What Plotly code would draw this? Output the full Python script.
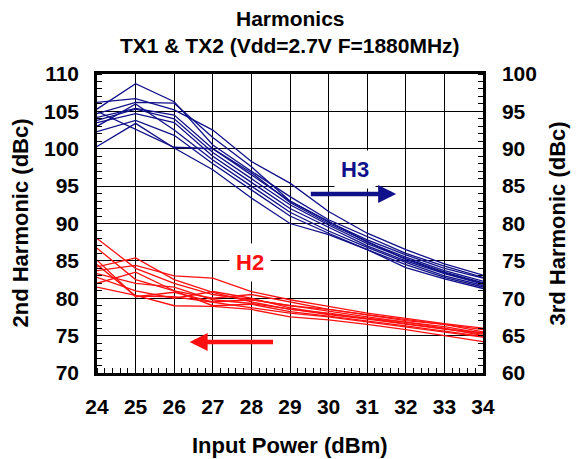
import plotly.graph_objects as go

x_power = [24, 25, 26, 27, 28, 29, 30, 31, 32, 33, 34]

# 3rd harmonic (dBc), right axis
h3_series = [
    [96.2, 96.7, 95.2, 92.5, 88.3, 85.4, 81.6, 78.7, 76.5, 74.6, 73.1],
    [95.3, 98.7, 96.3, 90.5, 87.0, 83.6, 80.5, 78.3, 76.0, 74.3, 72.8],
    [94.7, 96.2, 96.1, 91.5, 87.6, 83.0, 80.2, 77.8, 75.8, 74.0, 72.7],
    [94.2, 95.4, 94.5, 90.0, 86.5, 83.0, 80.3, 77.5, 75.5, 73.7, 72.3],
    [93.8, 95.3, 94.0, 89.5, 86.0, 82.5, 79.8, 77.3, 75.3, 73.5, 72.1],
    [93.5, 94.7, 93.5, 89.0, 85.5, 82.0, 79.5, 77.0, 75.0, 73.3, 71.9],
    [93.0, 96.0, 92.5, 88.5, 85.0, 81.5, 79.0, 76.8, 74.8, 73.0, 71.7],
    [92.3, 93.8, 91.8, 88.0, 84.5, 81.0, 78.7, 76.5, 74.5, 72.8, 71.5],
    [90.3, 93.4, 90.1, 87.2, 83.4, 80.0, 78.5, 76.5, 74.1, 72.6, 71.3],
    [95.0, 92.6, 90.2, 90.0, 86.8, 82.8, 80.0, 77.6, 75.2, 73.4, 72.0],
]

# 2nd harmonic (dBc), left axis
h2_series = [
    [88.0, 84.0, 82.0, 80.5, 79.8, 79.0, 78.5, 77.8, 77.0, 76.5, 75.5],
    [86.7, 82.5, 81.0, 80.0, 80.5, 79.5, 78.5, 77.8, 77.2, 76.5, 75.8],
    [85.1, 80.2, 80.8, 79.5, 79.8, 79.0, 78.2, 77.5, 76.8, 76.2, 75.3],
    [84.2, 85.4, 82.5, 80.8, 79.5, 78.5, 78.0, 77.3, 76.8, 76.0, 75.0],
    [83.7, 84.4, 83.0, 82.7, 80.9, 79.8, 78.9, 78.0, 77.3, 76.6, 76.0],
    [83.3, 82.0, 81.5, 79.8, 79.3, 78.5, 77.8, 77.2, 76.5, 75.8, 75.2],
    [82.8, 81.0, 80.0, 80.9, 80.0, 78.7, 77.9, 77.3, 76.6, 75.9, 75.4],
    [82.0, 83.5, 81.0, 79.0, 79.2, 78.2, 77.6, 77.0, 76.3, 75.6, 74.9],
    [81.5, 80.4, 79.0, 78.9, 78.5, 77.5, 77.1, 76.5, 75.8, 75.0, 74.2],
    [84.5, 80.3, 80.2, 79.5, 78.8, 78.0, 77.5, 76.8, 76.1, 75.5, 74.8],
]

x_ticks = [24, 25, 26, 27, 28, 29, 30, 31, 32, 33, 34]
y_left_ticks = [70, 75, 80, 85, 90, 95, 100, 105, 110]
y_right_ticks = [60, 65, 70, 75, 80, 85, 90, 95, 100]

title_lines = ["Harmonics", "TX1 & TX2 (Vdd=2.7V F=1880MHz)"]
x_title = "Input Power (dBm)"
left_title = "2nd Harmonic (dBc)"
right_title = "3rd Harmonic (dBc)"

NAVY = "#10108a"
RED = "#ff1010"
FONT = "Liberation Sans, Arial, sans-serif"

fig = go.Figure()
for s in h2_series:
    fig.add_trace(go.Scatter(x=x_power, y=s, mode="lines", yaxis="y",
                             line=dict(color=RED, width=1.3), showlegend=False))
for s in h3_series:
    fig.add_trace(go.Scatter(x=x_power, y=s, mode="lines", yaxis="y2",
                             line=dict(color=NAVY, width=1.3), showlegend=False))

tickfont = dict(family=FONT, size=21, color="black", weight="bold")
axtitlefont = dict(family=FONT, size=22, color="black", weight="bold")

fig.update_layout(
    width=576, height=459,
    margin=dict(l=97, r=93, t=74, b=86),
    paper_bgcolor="white", plot_bgcolor="white",
    xaxis=dict(range=[24, 34], tickvals=x_ticks, ticktext=[str(v) for v in x_ticks],
               showgrid=True, gridcolor="black", gridwidth=1,
               showline=True, linecolor="black", linewidth=2.5, mirror=True,
               ticks="", tickfont=tickfont, ticklabelstandoff=13, automargin=False,
               minor=dict(dtick=0.2, ticks="inside", ticklen=5, tickcolor="black", showgrid=False),
               zeroline=False),
    yaxis=dict(range=[70, 110], tickvals=y_left_ticks,
               showgrid=True, gridcolor="black", gridwidth=1,
               showline=True, linecolor="black", linewidth=2.5, mirror=True,
               ticks="", tickfont=tickfont, ticklabelstandoff=11, automargin=False,
               minor=dict(dtick=1, ticks="inside", ticklen=5, tickcolor="black", showgrid=False),
               zeroline=False),
    yaxis2=dict(range=[60, 100], tickvals=y_right_ticks, overlaying="y", side="right",
                showgrid=False, showline=True, linecolor="black", linewidth=2.5,
                ticks="", tickfont=tickfont, ticklabelstandoff=12, automargin=False,
                minor=dict(dtick=1, ticks="inside", ticklen=5, tickcolor="black", showgrid=False),
                zeroline=False),
)

# Title as two centered lines
for txt, shift in zip(title_lines, [56, 29]):
    fig.add_annotation(x=0.5, y=1, xref="paper", yref="paper", xanchor="center",
                       yanchor="middle", yshift=shift, text=txt, showarrow=False,
                       font=dict(family=FONT, size=21, color="black", weight="bold"))

# Axis titles
fig.add_annotation(x=0.5, y=0, xref="paper", yref="paper", xanchor="center", yanchor="middle",
                   yshift=-72, text=x_title, showarrow=False, font=axtitlefont)
fig.add_annotation(x=0, y=0.5, xref="paper", yref="paper", xanchor="center", yanchor="middle",
                   xshift=-77, text=left_title, textangle=-90, showarrow=False, font=axtitlefont)
fig.add_annotation(x=1, y=0.5, xref="paper", yref="paper", xanchor="center", yanchor="middle",
                   xshift=74, text=right_title, textangle=-90, showarrow=False, font=axtitlefont)

# H3 label and arrow
fig.add_annotation(x=30.68, y=97.2, xref="x", yref="y", text="H3", showarrow=False,
                   font=dict(family=FONT, size=22, color=NAVY, weight="bold"),
                   bgcolor="white", borderpad=6)
fig.add_annotation(x=31.75, y=93.95, ax=29.5, ay=93.95, xref="x", yref="y", axref="x", ayref="y",
                   text="", showarrow=True, arrowhead=2, arrowsize=0.8, arrowwidth=4.5,
                   arrowcolor=NAVY)
# H2 label and arrow
fig.add_annotation(x=27.96, y=84.85, xref="x", yref="y", text="H2", showarrow=False,
                   font=dict(family=FONT, size=22, color=RED, weight="bold"),
                   bgcolor="white", borderpad=6)
fig.add_annotation(x=26.4, y=74.15, ax=28.6, ay=74.15, xref="x", yref="y", axref="x", ayref="y",
                   text="", showarrow=True, arrowhead=2, arrowsize=0.8, arrowwidth=4.5,
                   arrowcolor=RED)

fig.write_html("out.html")
